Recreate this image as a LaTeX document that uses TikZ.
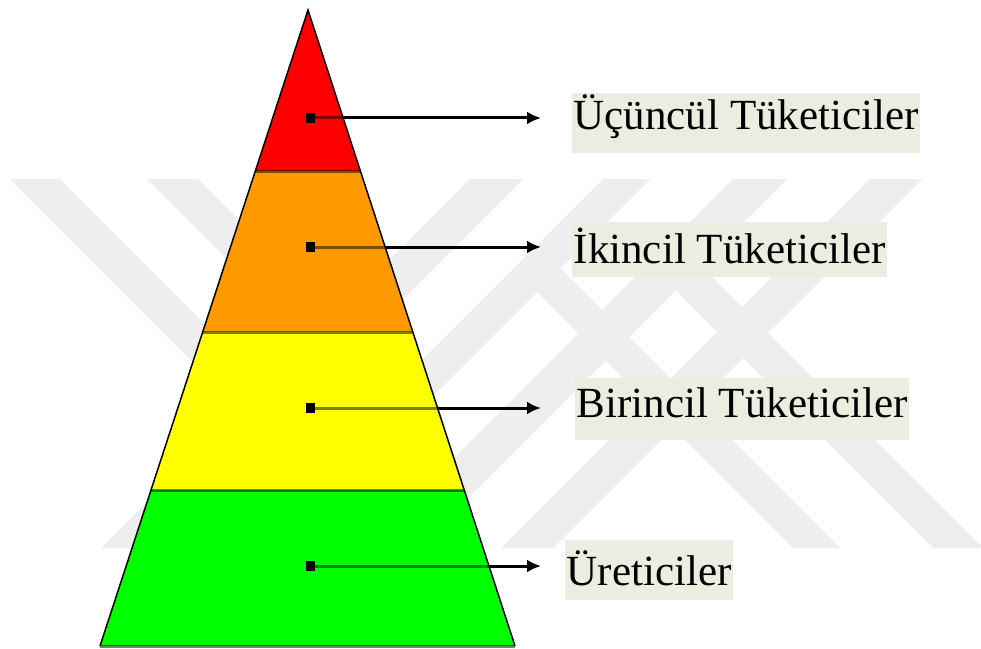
\documentclass[tikz,border=0pt]{standalone}
\usepackage{fontspec}
\setmainfont{Liberation Serif}
\usetikzlibrary{arrows.meta,calc}
\definecolor{wm}{RGB}{238,238,238}
\definecolor{lblbg}{RGB}{236,236,224}
\definecolor{tred}{RGB}{255,0,0}
\definecolor{torange}{RGB}{255,153,0}
\definecolor{tyellow}{RGB}{255,255,0}
\definecolor{tgreen}{RGB}{0,255,0}
\begin{document}
\begin{tikzpicture}[x=1pt,y=-1pt,
  wmband/.style={fill=wm},
  sepline/.style={draw=black, draw opacity=0.5, line width=3pt},
  inline/.style={draw=black, draw opacity=0.5, line width=3pt},
  outarrow/.style={draw=black, line width=3pt, -{Latex[length=14pt,width=13pt]}},
  dotbox/.style={fill=black, minimum width=9pt, minimum height=10pt, inner sep=0pt, draw=none},
  lbl/.style={fill=lblbg, inner xsep=1.5pt, inner ysep=0pt, anchor=base west,
              font=\fontsize{43}{50}\selectfont, text=black}
]
\useasboundingbox (0,0) rectangle (981,648);
\fill[white] (0,0) rectangle (981,648);

% faint watermark
\begin{scope}
  \clip (0,179) rectangle (981,548);
  \fill[wmband] (10,179) -- (60,179) -- (360,479) -- (310,479) -- cycle;
  \fill[wmband] (147,179) -- (198,179) -- (418,399) -- (367,399) -- cycle;
  \fill[wmband] (470,179) -- (523,179) -- (154,548) -- (101,548) -- cycle;
  \fill[wmband] (603,179) -- (650,179) -- (281,548) -- (234,548) -- cycle;
  \fill[wmband] (733,179) -- (787,179) -- (418,548) -- (364,548) -- cycle;
  \fill[wmband] (870,179) -- (922,179) -- (553,548) -- (501,548) -- cycle;
  \fill[wmband] (662,277) -- (687,252) -- (983,548) -- (933,548) -- cycle;
  \fill[wmband] (525,280) -- (549,257) -- (840,548) -- (793,548) -- cycle;
\end{scope}

% pyramid geometry
\coordinate (A) at (308,10);
\coordinate (BL) at (100,646);
\coordinate (BR) at (515,646);
\coordinate (L1) at ($(A)!{(171-10)/636}!(BL)$);
\coordinate (R1) at ($(A)!{(171-10)/636}!(BR)$);
\coordinate (L2) at ($(A)!{(332-10)/636}!(BL)$);
\coordinate (R2) at ($(A)!{(332-10)/636}!(BR)$);
\coordinate (L3) at ($(A)!{(490-10)/636}!(BL)$);
\coordinate (R3) at ($(A)!{(490-10)/636}!(BR)$);

\fill[tred] (A) -- (R1) -- (L1) -- cycle;
\fill[torange] (L1) -- (R1) -- (R2) -- (L2) -- cycle;
\fill[tyellow] (L2) -- (R2) -- (R3) -- (L3) -- cycle;
\fill[tgreen] (L3) -- (R3) -- (BR) -- (BL) -- cycle;

\draw[sepline] (L1) -- (R1);
\draw[sepline] (L2) -- (R2);
\draw[sepline] (L3) -- (R3);
\draw[sepline] (BL) -- (BR);
\draw[black, line width=1.5pt] (BL) -- (A) -- (BR);

% connectors
\coordinate (tx) at (541,0);
\coordinate (e1) at ($(A)!{(118-10)/636}!(BR)$);
\coordinate (e2) at ($(A)!{(247-10)/636}!(BR)$);
\coordinate (e3) at ($(A)!{(408-10)/636}!(BR)$);
\coordinate (e4) at ($(A)!{(566-10)/636}!(BR)$);
\coordinate (t1) at (e1 -| tx);
\coordinate (t2) at (e2 -| tx);
\coordinate (t3) at (e3 -| tx);
\coordinate (t4) at (e4 -| tx);

\node[dotbox] (d1) at (e1 -| 310,0) {};
\node[dotbox] (d2) at (e2 -| 310,0) {};
\node[dotbox] (d3) at (e3 -| 310,0) {};
\node[dotbox] (d4) at (e4 -| 310,0) {};

\draw[inline] (d1.center) -- (e1);
\draw[inline] (d2.center) -- (e2);
\draw[inline] (d3.center) -- (e3);
\draw[inline] (d4.center) -- (e4);
\node[dotbox] at (d1) {};
\node[dotbox] at (d2) {};
\node[dotbox] at (d3) {};
\node[dotbox] at (d4) {};

\draw[outarrow] (e1) -- (t1);
\draw[outarrow] (e2) -- (t2);
\draw[outarrow] (e3) -- (t3);
\draw[outarrow] (e4) -- (t4);

% labels
\node[lbl, text height=36pt, text depth=24pt] (n1) at (572,129) {Üçüncül Tüketiciler};
\node[lbl, text height=41pt, text depth=14pt] (n2) at (572,263) {İkincil Tüketiciler};
\node[lbl, text height=39pt, text depth=23pt] (n3) at (575,417) {Birincil Tüketiciler};
\node[lbl, text height=45pt, text depth=15pt] (n4) at (565,585) {Üreticiler};
\end{tikzpicture}
\end{document}
